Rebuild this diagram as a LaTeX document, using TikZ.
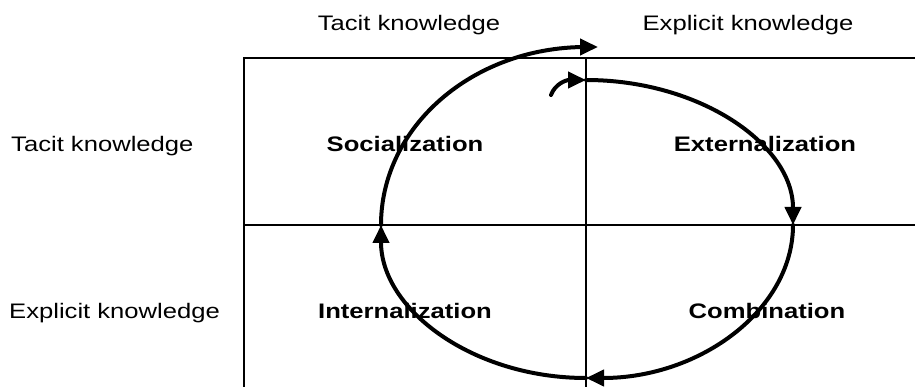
\documentclass[tikz,border=0pt]{standalone}
\usepackage{fontspec}
\setmainfont{Liberation Sans}[FakeStretch=1.22]
\usetikzlibrary{arrows.meta,positioning}
\tikzset{
  gridline/.style={line width=2pt,color=black},
  cycleline/.style={line width=4pt,line cap=round,-{Triangle[length=18pt,width=16pt]}},
  headlabel/.style={font=\fontsize{21}{25}\selectfont,inner sep=0pt,anchor=base},
  rowlabel/.style={headlabel,anchor=base west},
  modelabel/.style={font=\fontsize{21}{25}\selectfont\bfseries,inner sep=0pt,anchor=base}
}

\begin{document}
\begin{tikzpicture}[x=1pt,y=-1pt]
\useasboundingbox (0,0) rectangle (915,387);

% grid of the four modes
\coordinate (TL) at (244,58);
\coordinate (TR) at (915,58);
\coordinate (ML) at (244,225);
\coordinate (MR) at (915,225);
\coordinate (TM) at (586,58);
\coordinate (BL) at (244,387);
\coordinate (BM) at (586,387);

\draw[gridline] (BL) -- (TL) -- (TR);
\draw[gridline] (ML) -- (MR);
\draw[gridline] (TM) -- (BM);

% headers
\node[headlabel] (colTacit) at (409,31) {Tacit knowledge};
\node[headlabel] (colExplicit) at (748,31) {Explicit knowledge};
\node[rowlabel] (rowTacit) at (11,152) {Tacit knowledge};
\node[rowlabel] (rowExplicit) at (9,318) {Explicit knowledge};

% quadrants
\node[modelabel] (soc) at (405,152) {Socialization};
\node[modelabel] (ext) at (765,152) {Externalization};
\node[modelabel] (int) at (405,318) {Internalization};
\node[modelabel] (comb) at (767,318) {Combination};

% the spiral
\coordinate (start) at (551,95);
\coordinate (inTop) at (586,80);
\coordinate (right) at (793,225);
\coordinate (bottom) at (586,378);
\coordinate (left) at (381,225);
\coordinate (end) at (598,47);

\draw[cycleline] (start) .. controls (555,84) and (566,80) .. (inTop);
\draw[cycleline] (inTop) arc[start angle=-90,end angle=0,x radius=207,y radius=145];
\draw[cycleline] (right) arc[start angle=0,end angle=90,x radius=207,y radius=153];
\draw[cycleline] (bottom) arc[start angle=90,end angle=180,x radius=205,y radius=153];
\draw[cycleline] (left) arc[start angle=180,end angle=270,x radius=205,y radius=178] -- (end);

\end{tikzpicture}
\end{document}
